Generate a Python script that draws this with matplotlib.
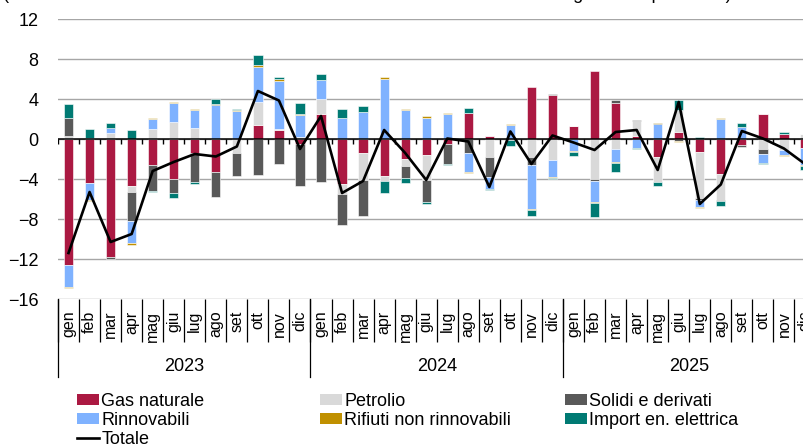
import numpy as np
import matplotlib
matplotlib.use('Agg')
import matplotlib.pyplot as plt
from matplotlib.patches import Patch
from matplotlib.lines import Line2D
import matplotlib.transforms as mtransforms

plt.rcParams['font.family'] = ['Liberation Sans', 'DejaVu Sans']

# Data: monthly contributions (Mtep), gen 2023 - dic 2025
months = ['gen', 'feb', 'mar', 'apr', 'mag', 'giu', 'lug', 'ago', 'set', 'ott', 'nov', 'dic']
years = ['2023', '2024', '2025']

gas = [-12.6, -4.4, -11.8, -4.7, -2.6, -4.0, -1.4, -3.25, 0, 1.45, 0.95, -0.45,
       2.55, -4.5, -1.35, -3.7, -2.0, -1.55, -0.45, 2.65, 0.35, -0.1, 5.15, 4.4,
       1.3, 6.75, 3.65, 0.3, -1.8, 0.7, -1.3, -3.45, -0.55, 2.5, 0.55, -0.9]
petrolio = [0.3, 0, 0.6, -0.55, 1.0, 1.75, 1.15, 0, -1.35, 2.3, 0.1, 0.25,
            1.45, -0.95, -2.75, -0.5, -0.7, -2.55, 0, 0, -1.75, 0, -1.75, -2.05,
            0, -3.95, -1.0, 1.5, -2.5, 2.2, -4.55, -2.6, 0, -1.0, -1.1, 0.5]
solidi = [1.85, 0.1, -0.2, -2.9, -2.55, -1.35, -2.85, -2.5, -2.35, -3.55, -2.5, -4.25,
          -4.25, -3.15, -3.55, 0, -1.15, -2.2, -2.05, -1.35, -2.05, 0, -0.85, 0.1,
          0, -0.2, 0.3, 0.1, 0, -0.15, -0.25, -0.15, -0.25, -0.45, 0, 0]
rinnovabili = [-2.15, -1.7, 0.55, -2.25, 1.0, 1.85, 1.75, 3.45, 2.85, 3.5, 4.75, 2.15,
               1.9, 2.15, 2.7, 6.0, 2.9, 2.15, 2.5, -1.9, -1.15, 1.4, -4.35, -1.7,
               -1.15, -2.15, -1.25, -0.85, 1.55, 0, -0.65, 2.0, 1.25, -0.95, -0.45, -1.65]
rifiuti = [-0.12, -0.12, 0, -0.15, 0.12, 0.1, 0.1, 0.1, 0.1, 0.15, 0.2, 0.1,
           0, 0, 0, 0.2, 0.15, 0.12, 0.1, -0.12, 0, 0.15, -0.15, -0.1,
           -0.1, -0.1, -0.1, -0.07, 0.1, -0.15, -0.1, 0.12, 0, 0, -0.1, -0.1]
import_el = [1.35, 0.9, 0.45, 0.95, -0.15, -0.55, -0.25, 0.5, 0.07, 1.0, 0.25, 1.15,
             0.55, 0.9, 0.65, -1.15, -0.5, -0.15, -0.12, 0.5, -0.15, -0.55, -0.55, -0.15,
             -0.45, -1.35, -0.9, -0.1, -0.35, 1.05, 0.2, -0.45, 0.35, -0.12, 0.12, -0.45]
totale = [-11.4, -5.3, -10.3, -9.5, -3.2, -2.3, -1.5, -1.75, -0.75, 4.8, 3.85, -1.0,
          2.3, -5.4, -4.2, 0.9, -1.4, -4.1, 0.05, -0.25, -4.8, 0.75, -2.5, 0.35,
          -0.35, -1.1, 0.7, 0.9, -3.1, 3.7, -6.5, -4.55, 0.8, 0.05, -0.95, -2.5]

series = [
    ('Gas naturale', gas, '#AB1942'),
    ('Petrolio', petrolio, '#D9D9D9'),
    ('Solidi e derivati', solidi, '#595959'),
    ('Rinnovabili', rinnovabili, '#7FB2FF'),
    ('Rifiuti non rinnovabili', rifiuti, '#C09000'),
    ('Import en. elettrica', import_el, '#007A73'),
]

FS = 13

fig = plt.figure(figsize=(8.04, 4.48), dpi=100)
W, H = 804, 448
# plot area runs past the right edge like in the original crop
ax = fig.add_axes([58 / W, 149 / H, 757.5 / W, 280 / H])

n = len(totale)
x = np.arange(n) + 0.5
pos_base = np.zeros(n)
neg_base = np.zeros(n)
for name, vals, col in series:
    v = np.array(vals, dtype=float)
    base = np.where(v >= 0, pos_base, neg_base)
    ax.bar(x, v, 0.44, bottom=base, color=col, edgecolor='white', linewidth=0.4, zorder=2)
    pos_base = pos_base + np.where(v >= 0, v, 0)
    neg_base = neg_base + np.where(v < 0, v, 0)

ax.plot(x, totale, color='black', lw=1.9, zorder=4)

# zero axis with small ticks
ax.axhline(0, color='black', lw=1.1, zorder=3)
ax.vlines(np.arange(n + 1), -0.5, 0, color='black', lw=1, zorder=3)

ax.set_xlim(0, n)
ax.set_ylim(-16, 12)
ax.set_yticks(range(-16, 13, 4))
ax.yaxis.grid(True, color='#A6A6A6', lw=1)
ax.set_axisbelow(True)
for s in ax.spines.values():
    s.set_visible(False)
ax.tick_params(axis='y', length=0, pad=14, labelsize=FS)

ax.set_xticks(x)
ax.set_xticklabels(months * 3, rotation=90, fontsize=11.5)
ax.set_xticks(np.arange(n + 1), minor=True)
ax.tick_params(axis='x', which='major', length=0, pad=8.5)
ax.tick_params(axis='x', which='minor', length=31, width=0.9, color='black', direction='out')

trans = mtransforms.blended_transform_factory(ax.transData, ax.transAxes)
for k in range(4):
    ax.add_line(Line2D([12 * k, 12 * k], [0, -78 / 280], transform=trans,
                       color='black', lw=0.9, clip_on=False))
for k, yr in enumerate(years):
    ax.text(12 * k + 6, -67 / 280, yr, transform=trans, ha='center', va='center', fontsize=FS)

# title line cut off at the top of the crop
fig.text(3 / W, 1 + 1 / H,
         "(contributi alla variazione tendenziale del consumo interno lordo di energia in Mtep e totale)",
         fontsize=FS, va='baseline', ha='left')

handles = {name: Patch(facecolor=col) for name, _, col in series}
handles['Totale'] = Line2D([], [], color='black', lw=1.9)
cols = [(['Gas naturale', 'Rinnovabili', 'Totale'], 77),
        (['Petrolio', 'Rifiuti non rinnovabili'], 320),
        (['Solidi e derivati', 'Import en. elettrica'], 565)]
for names, px in cols:
    fig.legend([handles[nm] for nm in names], names, loc='upper left',
               bbox_to_anchor=(px / W, 1 - 393 / H), frameon=False, fontsize=FS,
               borderpad=0, borderaxespad=0, handlelength=1.22, handleheight=0.5,
               handletextpad=0.12, labelspacing=0.1)

fig.savefig('out.png', dpi=100)
